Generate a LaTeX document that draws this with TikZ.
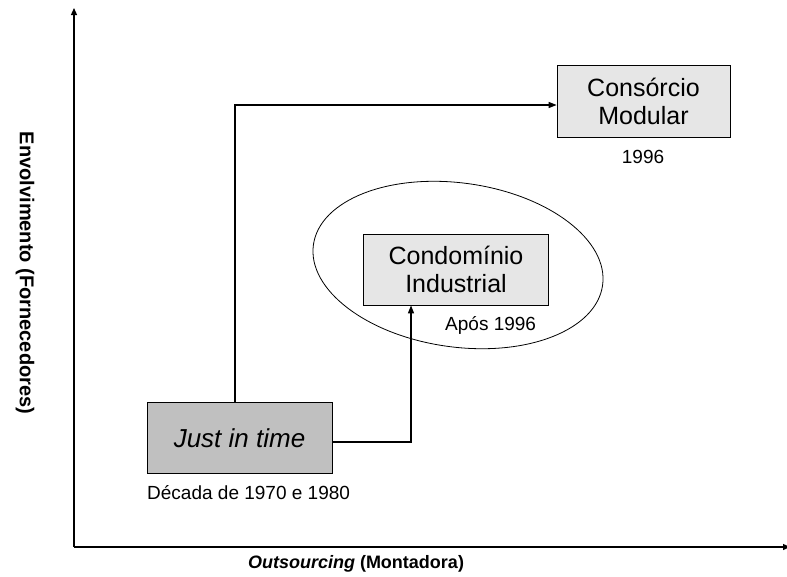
\documentclass[tikz,border=0pt]{standalone}
\usepackage{fontspec}
\setmainfont{Liberation Sans}
\usetikzlibrary{arrows.meta}
\definecolor{darkbox}{RGB}{192,192,192}
\definecolor{lightbox}{RGB}{230,230,230}
\tikzset{
  boxbig/.style={draw=black, line width=0.8pt, minimum width=185pt, minimum height=71pt, inner sep=0pt, font=\fontsize{25}{28}\selectfont, align=center},
  lbl/.style={font=\fontsize{19}{22}\selectfont, inner sep=0pt},
  axis/.style={line width=1.2pt, -{Triangle[length=7pt,width=6pt]}},
  connarrow/.style={line width=1.2pt, -{Triangle[length=8pt,width=6pt]}},
}
\begin{document}
\begin{tikzpicture}[x=1pt,y=-1pt]
\useasboundingbox (0,0) rectangle (787,576);
% axes
\coordinate (O) at (74,547);
\coordinate (ytop) at (74,8);
\coordinate (xend) at (790,547);
\draw[axis] (O) -- (ytop);
\draw[axis] (O) -- (xend);
\node[font=\bfseries\fontsize{20}{22}\selectfont, rotate=-90] (ylab) at (25,273) {Envolvimento (Fornecedores)};
\node[font=\bfseries\fontsize{18}{20}\selectfont] (xlab) at (356,564) {\textit{Outsourcing} (Montadora)};
% ellipse
\draw[line width=0.8pt, rotate around={-8:(458,265)}] (458,265) ellipse [x radius=146, y radius=82];
% boxes
\node[boxbig, fill=darkbox, font=\itshape\fontsize{26}{29}\selectfont] (jit) at (239.5,438) {Just in time};
\node[boxbig, fill=lightbox, minimum width=185pt, minimum height=71pt] (cond) at (456,269.5) {Condomínio\\Industrial};
\node[boxbig, fill=lightbox, minimum width=173pt, minimum height=72pt] (cons) at (643.5,101) {Consórcio\\Modular};
% labels
\node[lbl, anchor=west] (jitl) at (147,493) {Década de 1970 e 1980};
\node[lbl, anchor=west] (condl) at (445,325) {Após 1996};
\node[lbl] (consl) at (643,157) {1996};
% connectors
\coordinate (c1) at (235,105);
\draw[connarrow] (jit.north -| c1) -- (c1) -- (cons.west |- c1);
\coordinate (c2) at (411,442);
\draw[connarrow] (jit.east |- c2) -- (c2) -- (cond.south -| c2);
\end{tikzpicture}
\end{document}
